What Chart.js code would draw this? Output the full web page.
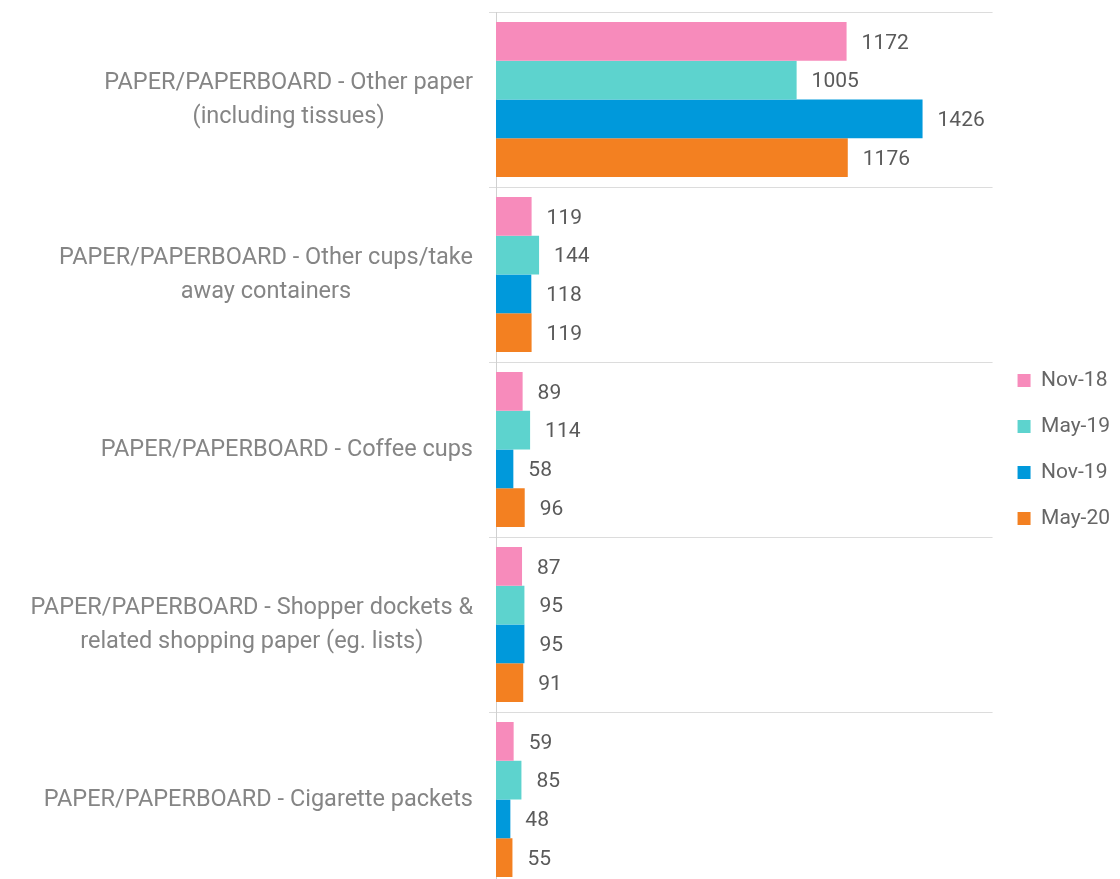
<!DOCTYPE html>
<html>
<head>
<meta charset="utf-8">
<script src="https://cdn.jsdelivr.net/npm/chart.js@4.4.1/dist/chart.umd.min.js"></script>
<style>
  html, body { margin: 0; padding: 0; background: #fff; overflow: hidden; }
  #wrap { position: relative; width: 1120px; height: 887px; }
</style>
</head>
<body>
<div id="wrap"><canvas id="chart"></canvas></div>
<script>
const categories = [
  ["PAPER/PAPERBOARD - Other paper", "(including tissues)"],
  ["PAPER/PAPERBOARD - Other cups/take", "away containers"],
  ["PAPER/PAPERBOARD - Coffee cups"],
  ["PAPER/PAPERBOARD - Shopper dockets &", "related shopping paper (eg. lists)"],
  ["PAPER/PAPERBOARD - Cigarette packets"]
]
const seriesNames = ["Nov-18", "May-19", "Nov-19", "May-20"]
const nov18 = [1172, 119, 89, 87, 59]
const may19 = [1005, 144, 114, 95, 85]
const nov19 = [1426, 118, 58, 95, 48]
const may20 = [1176, 119, 96, 91, 55]
const colors = ["#F78BBB", "#5DD3CE", "#0099DB", "#F38021"]

const FONT = "Roboto, 'Open Sans', sans-serif"

// category labels: block right-aligned to the axis, lines centred inside the block
const categoryLabels = {
  id: "categoryLabels",
  afterDraw(chart) {
    const ctx = chart.ctx
    const yScale = chart.scales.y
    ctx.save()
    ctx.font = "23.5px " + FONT
    ctx.fillStyle = "#858585"
    ctx.textAlign = "center"
    ctx.textBaseline = "middle"
    const right = yScale.right - 23
    const lineHeight = 34
    categories.forEach((lines, i) => {
      const y = yScale.getPixelForValue(i)
      const w = Math.max(...lines.map((l) => ctx.measureText(l).width))
      const cx = right - w / 2
      const top = y - (lines.length - 1) * lineHeight / 2 + 1
      lines.forEach((line, j) => ctx.fillText(line, cx, top + j * lineHeight))
    })
    ctx.restore()
  }
}

// value labels just past the end of each bar
const valueLabels = {
  id: "valueLabels",
  afterDatasetsDraw(chart) {
    const ctx = chart.ctx
    ctx.save()
    ctx.font = "21px " + FONT
    ctx.fillStyle = "#5a5a5a"
    ctx.textAlign = "left"
    ctx.textBaseline = "middle"
    chart.data.datasets.forEach((ds, di) => {
      chart.getDatasetMeta(di).data.forEach((bar, i) => {
        ctx.fillText(String(ds.data[i]), bar.x + 15, bar.y + 2)
      })
    })
    ctx.restore()
  }
}

const seriesData = [nov18, may19, nov19, may20]

new Chart(document.getElementById("chart").getContext("2d"), {
  type: "bar",
  data: {
    labels: categories.map((l) => l.join(" ")),
    datasets: seriesNames.map((name, i) => ({
      label: name,
      data: seriesData[i],
      backgroundColor: colors[i],
      borderWidth: 0,
      categoryPercentage: 0.886,
      barPercentage: 1
    }))
  },
  options: {
    indexAxis: "y",
    responsive: true,
    maintainAspectRatio: false,
    animation: false,
    layout: { padding: { top: 12, right: 0, bottom: 0, left: 0 } },
    scales: {
      x: {
        display: false,
        min: 0,
        max: 1660
      },
      y: {
        ticks: { display: false },
        grid: { color: "#dcdcdc", lineWidth: 1, tickLength: 7, offset: true },
        border: { display: true, color: "#d0d0d0" },
        afterFit(scale) { scale.width = 496 }
      }
    },
    plugins: {
      tooltip: { enabled: false },
      legend: {
        position: "right",
        align: "center",
        labels: {
          font: { family: FONT, size: 21 },
          color: "#666",
          boxWidth: 13,
          boxHeight: 13,
          padding: 25
        }
      }
    }
  },
  plugins: [categoryLabels, valueLabels]
})
</script>
</body>
</html>
